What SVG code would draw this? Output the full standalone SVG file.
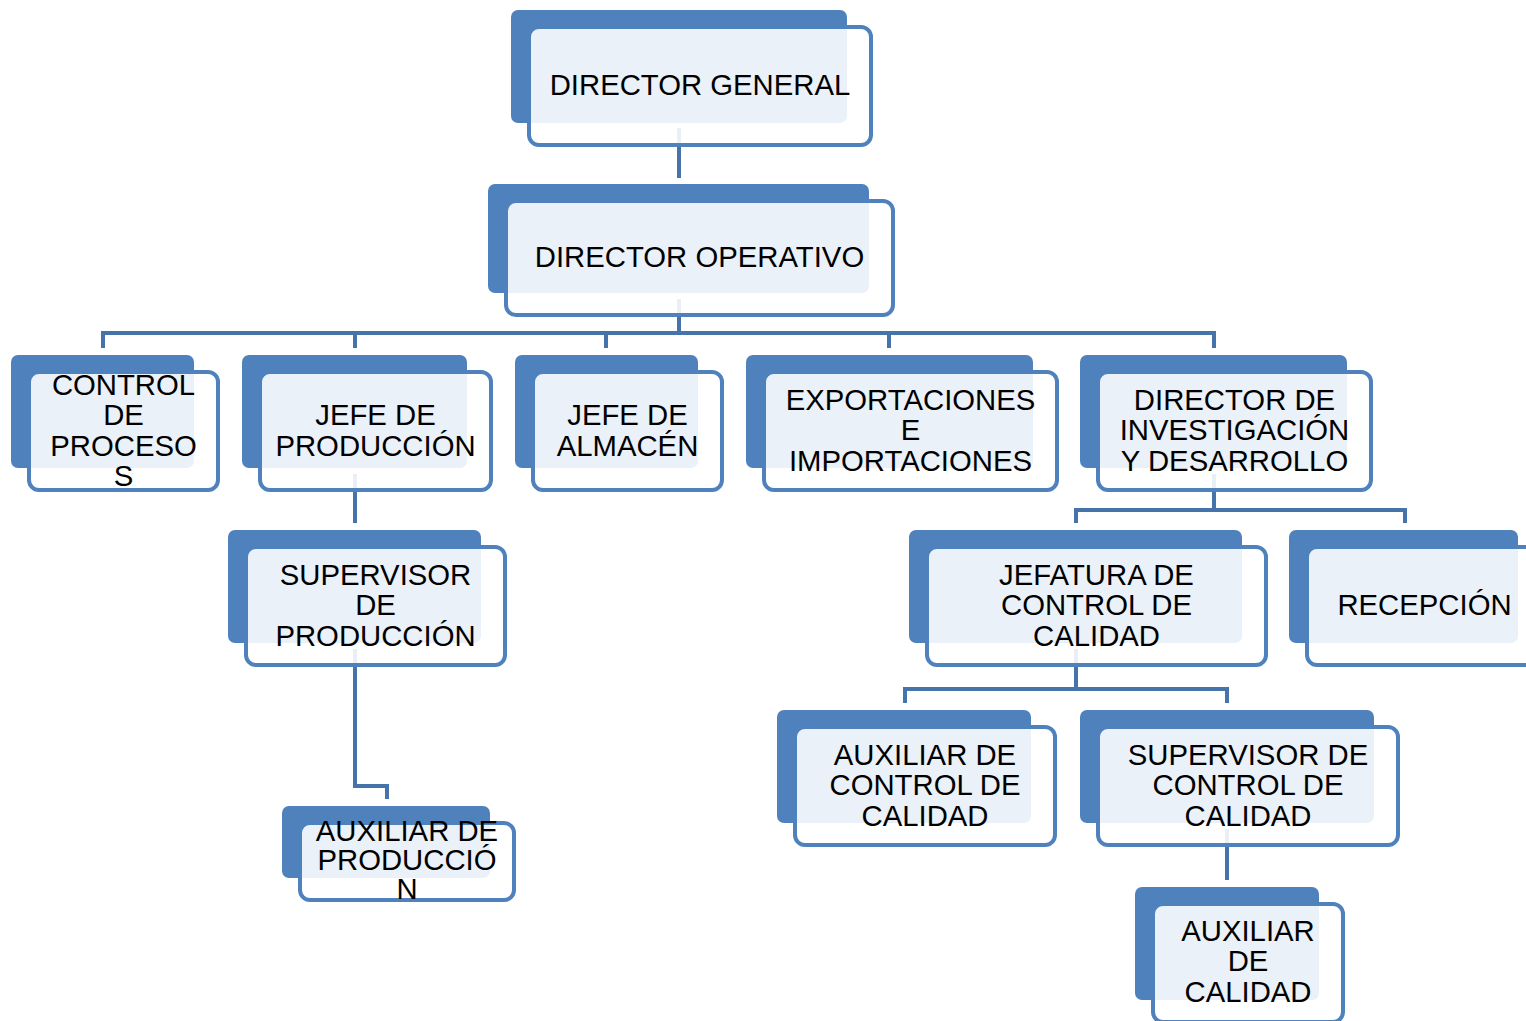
<svg xmlns="http://www.w3.org/2000/svg" width="1526" height="1021" viewBox="0 0 1526 1021">
  <style>
    .back { fill: #4F81BD; }
    .front { fill: #FFFFFF; fill-opacity: 0.885; stroke: #4F81BD; stroke-width: 4; }
    .lbl { font-family: "Liberation Sans", Arial, sans-serif; font-size: 29.3px; fill: #000000; text-anchor: middle; }
    .conn { fill: none; stroke: #4673A9; stroke-width: 4; stroke-linejoin: miter; stroke-linecap: butt; }
  </style>
  <rect width="1526" height="1021" fill="#FFFFFF"/>

  <!-- connectors (drawn first so the translucent node faces lie over them) -->
  <g id="connectors">
    <path class="conn" d="M679,128 V178"/>
    <path class="conn" d="M679,299 V333"/>
    <path class="conn" d="M103,348 V333 H1214 V348"/>
    <path class="conn" d="M355,333 V348"/>
    <path class="conn" d="M606,333 V348"/>
    <path class="conn" d="M889,333 V348"/>
    <path class="conn" d="M355,474 V523"/>
    <path class="conn" d="M355,649 V786 H387 V799"/>
    <path class="conn" d="M1214,474 V510"/>
    <path class="conn" d="M1076,523 V510 H1405 V523"/>
    <path class="conn" d="M1076,649 V689"/>
    <path class="conn" d="M905,703 V689 H1227 V703"/>
    <path class="conn" d="M1227,829 V880"/>
  </g>

  <g id="director-general">
    <rect class="back" x="511" y="10" width="336" height="113" rx="7"/>
    <rect class="front" x="529" y="27" width="342" height="118" rx="10"/>
    <text class="lbl" x="700" y="95">DIRECTOR GENERAL</text>
  </g>

  <g id="director-operativo">
    <rect class="back" x="488" y="184" width="381" height="109" rx="7"/>
    <rect class="front" x="506" y="201" width="387" height="114" rx="10"/>
    <text class="lbl" x="699.5" y="267">DIRECTOR OPERATIVO</text>
  </g>

  <g id="control-de-procesos">
    <rect class="back" x="11" y="355" width="183" height="113" rx="7"/>
    <rect class="front" x="29" y="372" width="189" height="118" rx="10"/>
    <text class="lbl"><tspan x="123.5" y="395">CONTROL</tspan><tspan x="123.5" y="425">DE</tspan><tspan x="123.5" y="456">PROCESO</tspan><tspan x="123.5" y="486">S</tspan></text>
  </g>

  <g id="jefe-de-produccion">
    <rect class="back" x="242" y="355" width="225" height="113" rx="7"/>
    <rect class="front" x="260" y="372" width="231" height="118" rx="10"/>
    <text class="lbl"><tspan x="375.5" y="425">JEFE DE</tspan><tspan x="375.5" y="456">PRODUCCIÓN</tspan></text>
  </g>

  <g id="jefe-de-almacen">
    <rect class="back" x="515" y="355" width="183" height="113" rx="7"/>
    <rect class="front" x="533" y="372" width="189" height="118" rx="10"/>
    <text class="lbl"><tspan x="627.5" y="425">JEFE DE</tspan><tspan x="627.5" y="456">ALMACÉN</tspan></text>
  </g>

  <g id="exportaciones">
    <rect class="back" x="746" y="355" width="287" height="113" rx="7"/>
    <rect class="front" x="764" y="372" width="293" height="118" rx="10"/>
    <text class="lbl"><tspan x="910.5" y="410">EXPORTACIONES</tspan><tspan x="910.5" y="440">E</tspan><tspan x="910.5" y="471">IMPORTACIONES</tspan></text>
  </g>

  <g id="director-id">
    <rect class="back" x="1080" y="355" width="267" height="113" rx="7"/>
    <rect class="front" x="1098" y="372" width="273" height="118" rx="10"/>
    <text class="lbl"><tspan x="1234.5" y="410">DIRECTOR DE</tspan><tspan x="1234.5" y="440">INVESTIGACIÓN</tspan><tspan x="1234.5" y="471">Y DESARROLLO</tspan></text>
  </g>

  <g id="supervisor-de-produccion">
    <rect class="back" x="228" y="530" width="253" height="113" rx="7"/>
    <rect class="front" x="246" y="547" width="259" height="118" rx="10"/>
    <text class="lbl"><tspan x="375.5" y="585">SUPERVISOR</tspan><tspan x="375.5" y="615">DE</tspan><tspan x="375.5" y="646">PRODUCCIÓN</tspan></text>
  </g>

  <g id="jefatura-control-calidad">
    <rect class="back" x="909" y="530" width="333" height="113" rx="7"/>
    <rect class="front" x="927" y="547" width="339" height="118" rx="10"/>
    <text class="lbl"><tspan x="1096.5" y="585">JEFATURA DE</tspan><tspan x="1096.5" y="615">CONTROL DE</tspan><tspan x="1096.5" y="646">CALIDAD</tspan></text>
  </g>

  <g id="recepcion">
    <rect class="back" x="1289" y="530" width="229" height="113" rx="7"/>
    <rect class="front" x="1307" y="547" width="235" height="118" rx="10"/>
    <text class="lbl" x="1424.5" y="615">RECEPCIÓN</text>
  </g>

  <g id="auxiliar-control-calidad">
    <rect class="back" x="777" y="710" width="254" height="113" rx="7"/>
    <rect class="front" x="795" y="727" width="260" height="118" rx="10"/>
    <text class="lbl"><tspan x="925" y="765">AUXILIAR DE</tspan><tspan x="925" y="795">CONTROL DE</tspan><tspan x="925" y="826">CALIDAD</tspan></text>
  </g>

  <g id="supervisor-control-calidad">
    <rect class="back" x="1080" y="710" width="294" height="113" rx="7"/>
    <rect class="front" x="1098" y="727" width="300" height="118" rx="10"/>
    <text class="lbl"><tspan x="1248" y="765">SUPERVISOR DE</tspan><tspan x="1248" y="795">CONTROL DE</tspan><tspan x="1248" y="826">CALIDAD</tspan></text>
  </g>

  <g id="auxiliar-de-produccion">
    <rect class="back" x="282" y="806" width="208" height="72" rx="7"/>
    <rect class="front" x="300" y="823" width="214" height="77" rx="10"/>
    <text class="lbl"><tspan x="407" y="841">AUXILIAR DE</tspan><tspan x="407" y="870">PRODUCCIÓ</tspan><tspan x="407" y="899">N</tspan></text>
  </g>

  <g id="auxiliar-de-calidad">
    <rect class="back" x="1135" y="887" width="184" height="113" rx="7"/>
    <rect class="front" x="1153" y="904" width="190" height="118" rx="10"/>
    <text class="lbl"><tspan x="1248" y="941">AUXILIAR</tspan><tspan x="1248" y="971">DE</tspan><tspan x="1248" y="1002">CALIDAD</tspan></text>
  </g>
</svg>
